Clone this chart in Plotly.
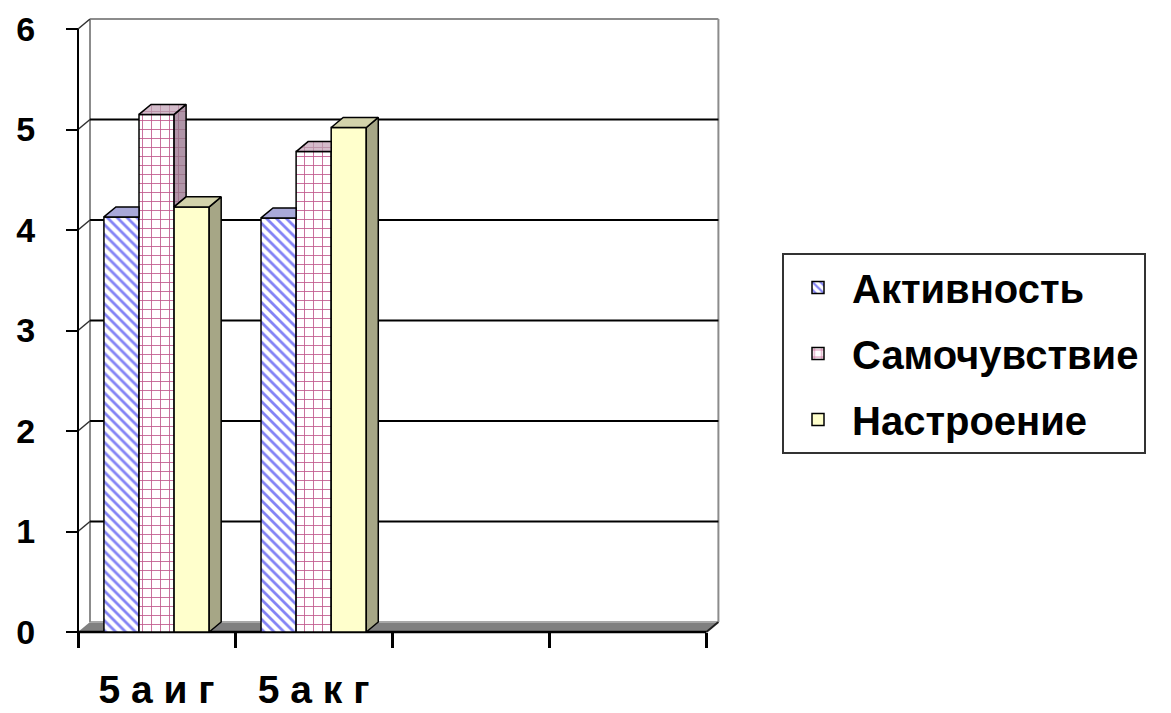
import plotly.graph_objects as go

# ---- data -------------------------------------------------------------
categories = ["5 а и г", "5 а к г", "", ""]
series_names = ["Активность", "Самочувствие", "Настроение"]
aktivnost = [4.13, 4.12]
samochuvstvie = [5.15, 4.78]
nastroenie = [4.23, 5.02]
y_ticks = [0, 1, 2, 3, 4, 5, 6]

# ---- geometry of the pseudo-3D box (axis units) ------------------------
DX, DY = 0.0764, 0.10          # depth offset of the back wall
BARGAP = 0.33
n_cat = len(categories)
centers = [i + 0.5 for i in range(n_cat)]
x_end = float(n_cat)
y_top = float(max(y_ticks))
FONT = "Liberation Sans, Arial, sans-serif"

front_styles = [
    dict(color="white", line=dict(color="black", width=1.5),
         pattern=dict(shape="\\", fgcolor="#8383f5", bgcolor="white",
                      size=7, solidity=0.4, fillmode="replace")),
    dict(color="white", line=dict(color="black", width=1.5),
         pattern=dict(shape="+", fgcolor="#c0588c", bgcolor="white",
                      size=9, solidity=0.18, fillmode="replace")),
    dict(color="#ffffcc", line=dict(color="black", width=1.5)),
]
top_styles = [
    dict(fillcolor="#a9a9d9", fillpattern=None),
    dict(fillcolor="#d0b4c6", fillpattern=dict(shape="+", fgcolor="#a0607f",
                                               bgcolor="#d4bccb", size=9, solidity=0.18)),
    dict(fillcolor="#d3d3ab", fillpattern=None),
]
side_styles = [
    dict(fillcolor="#8c8cc0", fillpattern=None),
    dict(fillcolor="#ad90a4", fillpattern=dict(shape="+", fgcolor="#844a66",
                                               bgcolor="#b095a8", size=9, solidity=0.18)),
    dict(fillcolor="#a6a686", fillpattern=None),
]

values = [aktivnost, samochuvstvie, nastroenie]
fig = go.Figure()

# front faces
for name, vals, st in zip(series_names, values, front_styles):
    fig.add_trace(go.Bar(
        x=centers[:len(vals)], y=vals, name=name, marker=st,
        legendgroup=name, hoverinfo="skip",
    ))

# top and side faces, clipped where the neighbouring bar hides them
bw = (1 - BARGAP) / len(values)
for s in range(len(values)):
    tops_x, tops_y, sides_x, sides_y = [], [], [], []
    for c in range(len(values[s])):
        v = values[s][c]
        x0 = centers[c] - (1 - BARGAP) / 2 + s * bw
        x1 = x0 + bw
        nxt = values[s + 1][c] if s + 1 < len(values) else None
        if nxt is None or nxt < v:
            top = [(x0, v), (x0 + DX, v + DY), (x1 + DX, v + DY), (x1, v)]
        else:
            top = [(x0, v), (x0 + DX, v + DY), (x1, v + DY), (x1, v)]
        side = None
        if nxt is None:
            side = [(x1, 0), (x1, v), (x1 + DX, v + DY), (x1 + DX, DY)]
        elif nxt < v:
            side = [(x1, nxt), (x1, v), (x1 + DX, v + DY), (x1 + DX, nxt + DY)]
        for px, py in top + [top[0]]:
            tops_x.append(px); tops_y.append(py)
        tops_x.append(None); tops_y.append(None)
        if side:
            for px, py in side + [side[0]]:
                sides_x.append(px); sides_y.append(py)
            sides_x.append(None); sides_y.append(None)
    for xs, ys, st in ((sides_x, sides_y, side_styles[s]), (tops_x, tops_y, top_styles[s])):
        if not xs:
            continue
        kw = dict(x=xs, y=ys, mode="lines", fill="toself",
                  fillcolor=st["fillcolor"], line=dict(color="black", width=1.5),
                  showlegend=False, hoverinfo="skip")
        if st["fillpattern"]:
            kw["fillpattern"] = st["fillpattern"]
        fig.add_trace(go.Scatter(**kw))

# ---- walls, floor and gridlines --------------------------------------
shapes = []
def seg(xa, ya, xb, yb, color, width):
    shapes.append(dict(type="line", xref="x", yref="y", x0=xa, y0=ya, x1=xb, y1=yb,
                       line=dict(color=color, width=width), layer="below"))

# floor
shapes.append(dict(type="path", xref="x", yref="y", layer="below",
                   path=f"M 0,0 L {DX},{DY} L {x_end + DX},{DY} L {x_end},0 Z",
                   fillcolor="#808080", line=dict(width=0)))
seg(DX, DY, x_end + DX, DY, "#a8a8a8", 2)
seg(x_end, 0, x_end + DX, DY, "#202020", 2)
seg(0, 0, x_end, 0, "black", 2.5)
# back wall frame
seg(DX, DY, DX, y_top + DY, "#8c8c8c", 2)
seg(DX, y_top + DY, x_end + DX, y_top + DY, "#8c8c8c", 2)
seg(x_end + DX, DY, x_end + DX, y_top + DY, "#8c8c8c", 2)
# gridlines on the back wall with their links to the front axis
for t in y_ticks[1:]:
    if t < y_top:
        seg(DX, t + DY, x_end + DX, t + DY, "black", 2)
    seg(0, t, DX, t + DY, "#303030", 1.5)
# front value axis
seg(0, 0, 0, y_top, "black", 2)

# ---- pixel layout ----------------------------------------------------
L, R, T, B = 75, 722, 17, 637
W, H = 1171, 713
x0px, x_scale = 78, 157.1
y0px, y_scale = 632, 100.5
x_range = [(L - x0px) / x_scale, (R - x0px) / x_scale]
y_range = [(y0px - B) / y_scale, (y0px - T) / y_scale]

fig.update_layout(
    width=W, height=H,
    margin=dict(l=L, r=W - R, t=T, b=H - B, autoexpand=False),
    paper_bgcolor="white", plot_bgcolor="white",
    barmode="group", bargap=BARGAP, bargroupgap=0,
    shapes=shapes,
    font=dict(family=FONT, color="black"),
    xaxis=dict(
        range=x_range, showgrid=False, zeroline=False, showline=False,
        tickmode="array", tickvals=centers, ticktext=categories, ticks="",
        tickfont=dict(size=39, weight="bold", family=FONT),
        ticklabelstandoff=31, automargin=False,
        minor=dict(tickmode="array", tickvals=list(range(n_cat + 1)),
                   ticks="outside", ticklen=15, tickwidth=2.5, tickcolor="black",
                   showgrid=False),
        anchor="free", position=(B - y0px) / (B - T),
    ),
    yaxis=dict(
        range=y_range, showgrid=False, zeroline=False, showline=False,
        tickmode="array", tickvals=y_ticks, ticks="outside", ticklen=12,
        tickwidth=2, tickcolor="black",
        tickfont=dict(size=34, weight="bold", family=FONT),
        ticklabelstandoff=24, automargin=False,
        anchor="free", position=(x0px - L) / (R - L),
    ),
    legend=dict(
        x=(782 - L) / (R - L), y=(B - 253) / (B - T),
        xanchor="left", yanchor="top",
        bordercolor="#333333", borderwidth=2, bgcolor="white",
        font=dict(size=40, weight="bold", family=FONT),
        tracegroupgap=11, itemwidth=58, entrywidth=320, entrywidthmode="pixels",
    ),
)

fig.write_html("out.html")
